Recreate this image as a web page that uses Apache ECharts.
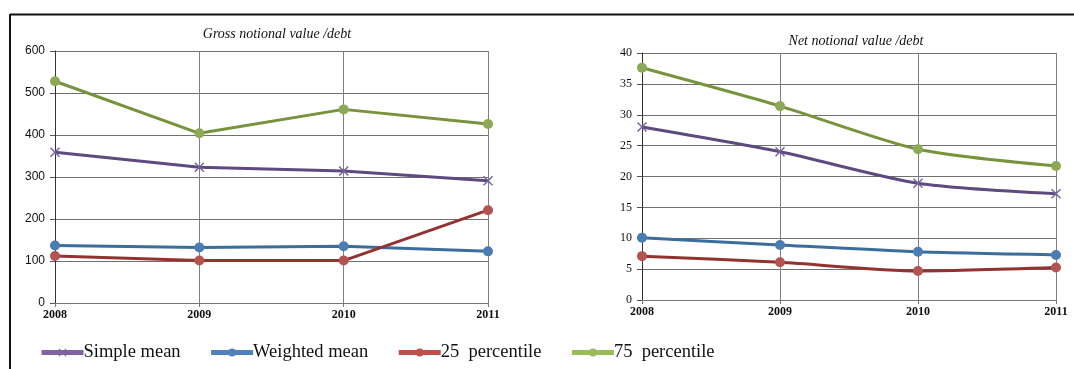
<!DOCTYPE html>
<html><head><meta charset="utf-8">
<script src="https://cdn.jsdelivr.net/npm/echarts@6/dist/echarts.min.js"></script>
<style>html,body{margin:0;padding:0;background:#fff;}#c{width:1074px;height:369px;}</style>
</head><body><div id="c"></div>
<script>
var years = ['2008', '2009', '2010', '2011'];
var seriesNames = ['Simple mean', 'Weighted mean', '25  percentile', '75  percentile'];
// Gross notional value / debt
var grossSimpleMean = [359, 323, 314, 291];
var grossWeightedMean = [137, 132, 135, 123];
var grossP25 = [112, 101, 101, 221];
var grossP75 = [528, 404, 461, 426];
// Net notional value / debt
var netSimpleMean = [28.0, 24.0, 18.9, 17.2];
var netWeightedMean = [10.1, 8.9, 7.8, 7.3];
var netP25 = [7.1, 6.1, 4.7, 5.25];
var netP75 = [37.6, 31.4, 24.4, 21.7];
var grossTicks = {min: 0, max: 600, interval: 100};
var netTicks = {min: 0, max: 40, interval: 5};

var lineColors = ['#5E4A7E', '#3B6E9C', '#923332', '#77933C'];
var markColors = ['#7560A0', '#4A7DB2', '#B25452', '#8BAA58'];
var legendColors = ['#8064A2', '#4F81BD', '#C0504D', '#9BBB59'];
var xSym = 'path://M0,1L1,0L5,4L9,0L10,1L6,5L10,9L9,10L5,6L1,10L0,9L4,5Z';

var chart = echarts.init(document.getElementById('c'));
function mk(name, idx, data, gi, smooth) {
  return {
    name: name, type: 'line', xAxisIndex: gi, yAxisIndex: gi, data: data,
    smooth: smooth, symbol: idx === 0 ? xSym : 'circle', symbolSize: 10,
    lineStyle: {color: lineColors[idx], width: 3},
    itemStyle: {color: markColors[idx], borderWidth: 0},
    emphasis: {disabled: true}, z: 3
  };
}
var grossData = [grossSimpleMean, grossWeightedMean, grossP25, grossP75];
var netData = [netSimpleMean, netWeightedMean, netP25, netP75];
var series = [];
for (var i = 0; i < 4; i++) series.push(mk(seriesNames[i], i, grossData[i], 0, false));
for (var i = 0; i < 4; i++) series.push(mk(seriesNames[i], i, netData[i], 1, 0.25));

var serif = '"Liberation Serif", "Times New Roman", serif';
function xAx(gi) {
  return {
    type: 'category', gridIndex: gi, data: years, boundaryGap: false,
    axisLine: {lineStyle: {color: '#777', width: 1}},
    axisTick: {show: true, length: 4, lineStyle: {color: '#777'}},
    axisLabel: {color: '#111', fontFamily: serif, fontSize: 12, fontWeight: 'bold', margin: 6},
    splitLine: {show: true, lineStyle: {color: '#808080', width: 1}}
  };
}
function yAx(gi, t, fam) {
  return {
    type: 'value', gridIndex: gi, min: t.min, max: t.max, interval: t.interval,
    axisLine: {show: true, lineStyle: {color: '#333', width: 1}},
    axisTick: {show: true, length: 5, lineStyle: {color: '#555'}},
    axisLabel: {color: '#111', fontFamily: fam, fontSize: 12, margin: 10},
    splitLine: {show: true, lineStyle: {color: '#707070', width: 1}}
  };
}
chart.setOption({
  animation: false,
  title: [
    {text: 'Gross notional value /debt', left: 272, top: 22, textAlign: 'center',
     textStyle: {fontFamily: serif, fontStyle: 'italic', fontWeight: 'normal', fontSize: 14, color: '#111'}},
    {text: 'Net notional value /debt', left: 851, top: 29, textAlign: 'center',
     textStyle: {fontFamily: serif, fontStyle: 'italic', fontWeight: 'normal', fontSize: 14, color: '#111'}}
  ],
  grid: [
    {left: 55, right: 586, top: 51, bottom: 66, containLabel: false},
    {left: 642, right: 18, top: 53, bottom: 69, containLabel: false}
  ],
  xAxis: [xAx(0), xAx(1)],
  yAxis: [yAx(0, grossTicks, '"Liberation Sans", Arial, sans-serif'), yAx(1, netTicks, serif)],
  legend: {
    left: 39, top: 343, padding: 0, itemWidth: 42, itemHeight: 10, itemGap: 28,
    textStyle: {fontFamily: serif, fontSize: 18.5, color: '#111', padding: [0, 0, 0, -5]},
    data: seriesNames.map(function (n, i) {
      return {name: n, itemStyle: {color: legendColors[i]}, lineStyle: {color: legendColors[i], width: 5}};
    })
  },
  graphic: [
    {type: 'line', shape: {x1: 10, y1: 14.5, x2: 1074, y2: 14.5}, style: {stroke: '#111', lineWidth: 2}},
    {type: 'line', shape: {x1: 10, y1: 14, x2: 10, y2: 369}, style: {stroke: '#111', lineWidth: 2}}
  ],
  series: series
});
</script></body></html>
